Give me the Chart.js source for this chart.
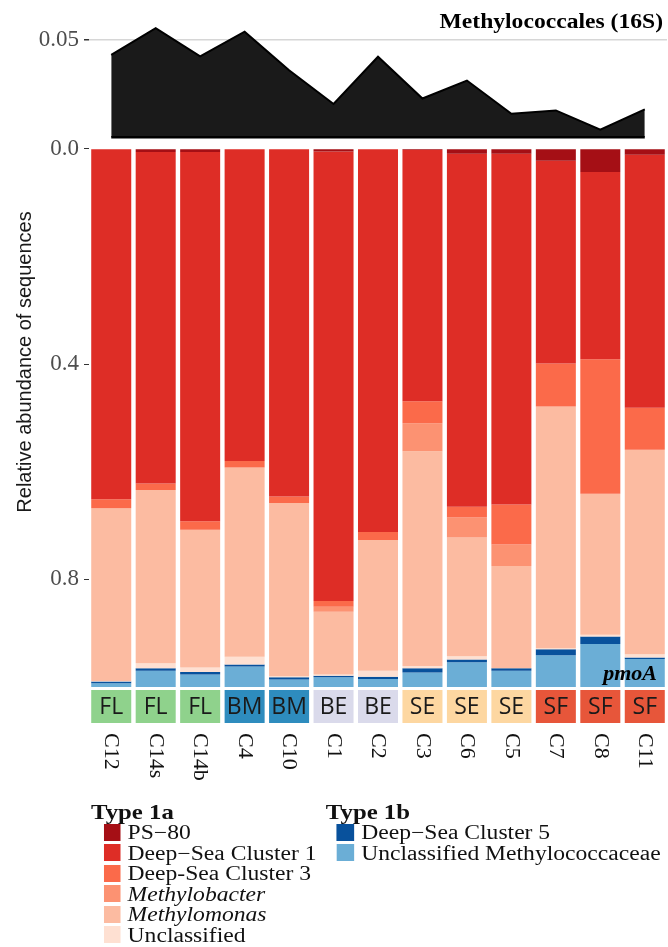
<!DOCTYPE html>
<html>
<head>
<meta charset="utf-8">
<script src="https://cdn.jsdelivr.net/npm/chart.js@4.4.1/dist/chart.umd.min.js"></script>
<style>
body{margin:0;background:#fff;width:668px;height:947px;position:relative;overflow:hidden}
canvas{position:absolute;left:0}
#top{top:0}
#bars{top:130px}
#legend{position:absolute;left:91px;top:0;transform:scaleX(1.18);transform-origin:0 0;font-family:"Liberation Serif","Times New Roman",serif;font-size:20px;color:#111}
#legend div{position:absolute;white-space:nowrap;line-height:20px;height:20px}
#legend .hd{font-weight:bold;font-size:21px}
#legend .sw{width:14.5px;height:17px;margin-top:1.5px}
#legend i{font-style:italic}
</style>
</head>
<body>
<canvas id="top" width="668" height="156"></canvas>
<canvas id="bars" width="668" height="670"></canvas>
<div id="legend"></div>
<script>
const samples=['C12','C14s','C14b','C4','C10','C1','C2','C3','C6','C5','C7','C8','C11'];
const habitat=['FL','FL','FL','BM','BM','BE','BE','SE','SE','SE','SF','SF','SF'];
const methylo16S=[0.0421,0.0558,0.0414,0.054,0.0343,0.0170,0.0412,0.0198,0.0290,0.0120,0.0137,0.0038,0.0142];

// type 1a
const ps80=[0,0.006,0.006,0,0,0.005,0,0.002,0.009,0.009,0.022,0.043,0.011];
const dsc1=[0.651,0.616,0.686,0.580,0.646,0.835,0.712,0.467,0.656,0.652,0.377,0.348,0.470];
const dsc3=[0.017,0.012,0.016,0.012,0.012,0.011,0.015,0.041,0.020,0.074,0.080,0.250,0.078];
const methylobacter=[0,0,0,0,0,0.009,0,0.052,0.037,0.040,0,0,0];
const methylomonas=[0.321,0.322,0.256,0.352,0.322,0.117,0.243,0.399,0.221,0.190,0.449,0.262,0.380];
const unclass1a=[0.001,0.009,0.008,0.014,0.002,0.002,0.011,0.004,0.006,0,0.002,0.003,0.006];
// type 1b
const dsc5=[0.003,0.005,0.005,0.004,0.004,0.003,0.004,0.008,0.005,0.005,0.011,0.014,0.003];
const unclMethylococcaceae=[0.007,0.030,0.023,0.038,0.014,0.018,0.015,0.027,0.046,0.030,0.059,0.080,0.052];

const barTicks=[0,0.4,0.8];
const topTicks=[0.05];

const habColors={FL:'#8FD28C',BM:'#2E8CBE',BE:'#DADAEB',SE:'#FDD7A1',SF:'#E7563A'};
const serif='"Liberation Serif", "Times New Roman", serif';

const groups=[
  {name:'PS−80',data:ps80,color:'#A50F15'},
  {name:'Deep−Sea Cluster 1',data:dsc1,color:'#DE2D26'},
  {name:'Deep-Sea Cluster 3',data:dsc3,color:'#FB6A4A'},
  {name:'Methylobacter',data:methylobacter,color:'#FC9272',it:true},
  {name:'Methylomonas',data:methylomonas,color:'#FCBBA1',it:true},
  {name:'Unclassified',data:unclass1a,color:'#FEE0D2'},
  {name:'Deep−Sea Cluster 5',data:dsc5,color:'#08519C'},
  {name:'Unclassified Methylococcaceae',data:unclMethylococcaceae,color:'#6BAED6'}
];

function fixWidth(s){s.width=89;}

// top panel: 16S abundance
const topDeco={
  id:'topDeco',
  afterDatasetsDraw(chart){
    const c=chart.ctx,x=chart.scales.x,y=chart.scales.y;
    c.save();
    c.strokeStyle='#000';c.lineWidth=2.5;
    c.beginPath();
    c.moveTo(x.getPixelForValue(0),y.getPixelForValue(0));
    c.lineTo(x.getPixelForValue(samples.length-1),y.getPixelForValue(0));
    c.stroke();
    c.translate(663,23);c.scale(1.18,1);
    c.font='bold 20px '+serif;c.fillStyle='#000';
    c.textAlign='right';c.textBaseline='middle';
    c.fillText('Methylococcales (16S)',0,0);
    c.restore();
  }
};

new Chart(document.getElementById('top'),{
  type:'line',
  data:{labels:samples,datasets:[{
    data:methylo16S,fill:'origin',backgroundColor:'#1a1a1a',
    borderColor:'#000',borderWidth:2,pointRadius:0,tension:0
  }]},
  options:{
    responsive:false,animation:false,
    layout:{padding:{top:20,right:1,bottom:15,left:0}},
    plugins:{legend:{display:false},tooltip:{enabled:false}},
    scales:{
      x:{display:false,offset:true},
      y:{min:0,max:0.06,afterFit:fixWidth,
        afterBuildTicks:s=>{s.ticks=topTicks.map(v=>({value:v}));},
        ticks:{font:{family:serif,size:23},color:'#4d4d4d',padding:5,callback:v=>v.toFixed(2)},
        grid:{color:'#d6d6d6',lineWidth:1.5,tickLength:5,tickColor:'#333'},
        border:{display:false}}
    }
  },
  plugins:[topDeco]
});

// habitat strip, sample names, axis title
const strip={
  id:'strip',
  afterDraw(chart){
    const c=chart.ctx,x=chart.scales.x,a=chart.chartArea;
    const meta=chart.getDatasetMeta(0);
    c.save();
    samples.forEach((s,i)=>{
      const cx=x.getPixelForValue(i),w=meta.data[i].width;
      c.fillStyle=habColors[habitat[i]];
      c.fillRect(cx-w/2,a.bottom+3,w,33);
      c.fillStyle='#1a1a1a';c.font='23px "Open Sans", sans-serif';
      c.textAlign='center';c.textBaseline='middle';
      c.fillText(habitat[i],cx,a.bottom+20);
      c.save();
      c.translate(cx,a.bottom+46);c.rotate(Math.PI/2);
      c.font='22px '+serif;c.fillStyle='#111';
      c.textAlign='left';c.textBaseline='middle';
      c.fillText(s,0,0);
      c.restore();
    });
    c.font='bold italic 22px '+serif;c.fillStyle='#000';
    c.textAlign='right';c.textBaseline='alphabetic';
    c.fillText('pmoA',657,a.bottom-7);
    c.translate(25,232);c.rotate(-Math.PI/2);
    c.font='20px "Liberation Sans", sans-serif';c.fillStyle='#1a1a1a';
    c.textAlign='center';c.textBaseline='middle';
    c.fillText('Relative abundance of sequences',0,0);
    c.restore();
  }
};

new Chart(document.getElementById('bars'),{
  type:'bar',
  data:{labels:samples,datasets:groups.map(g=>({label:g.name,data:g.data,backgroundColor:g.color}))},
  options:{
    responsive:false,animation:false,
    layout:{padding:{top:17,right:1,bottom:113,left:0}},
    datasets:{bar:{categoryPercentage:1,barPercentage:0.9,borderWidth:0}},
    plugins:{legend:{display:false},tooltip:{enabled:false}},
    scales:{
      x:{stacked:true,display:false},
      y:{stacked:true,reverse:true,min:0,max:1,afterFit:fixWidth,
        afterBuildTicks:s=>{s.ticks=barTicks.map(v=>({value:v}));},
        ticks:{font:{family:serif,size:23},color:'#4d4d4d',padding:5,callback:v=>v.toFixed(1)},
        grid:{drawOnChartArea:false,tickLength:5,tickColor:'#333'},
        border:{display:false}}
    }
  },
  plugins:[strip]
});

// legend as text
const leg=document.getElementById('legend');
function put(html,left,cy,cls){
  const d=document.createElement('div');
  if(cls)d.className=cls;
  d.innerHTML=html;d.style.left=left+'px';d.style.top=(cy-10)+'px';
  leg.appendChild(d);
}
const rowY=[832,852.5,873,893.5,914,934.5];
put('Type 1a',0,812,'hd');
put('Type 1b',199,812,'hd');
groups.forEach((g,i)=>{
  const first=i<6;
  const cy=first?rowY[i]:rowY[i-6];
  const sw=document.createElement('div');
  sw.className='sw';sw.style.background=g.color;
  sw.style.left=(first?10.6:208)+'px';sw.style.top=(cy-10)+'px';
  leg.appendChild(sw);
  put(g.it?'<i>'+g.name+'</i>':g.name,first?31:229,cy);
});
</script>
</body>
</html>
